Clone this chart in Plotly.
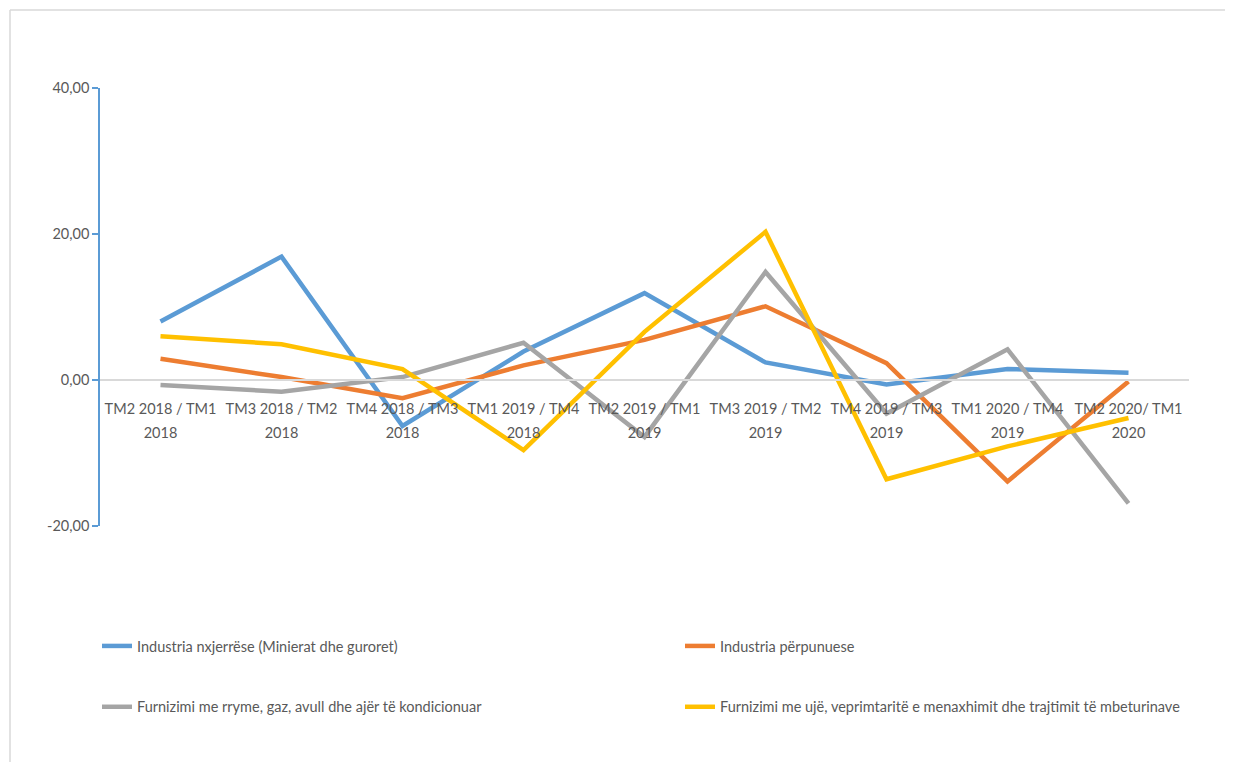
import plotly.graph_objects as go

categories = [
    "TM2 2018 / TM1 2018", "TM3 2018 / TM2 2018", "TM4 2018 / TM3 2018",
    "TM1 2019 / TM4 2018", "TM2 2019 / TM1 2019", "TM3 2019 / TM2 2019",
    "TM4 2019 / TM3 2019", "TM1 2020 / TM4 2019", "TM2 2020/ TM1 2020",
]
label_line1 = ["TM2 2018 / TM1", "TM3 2018 / TM2", "TM4 2018 / TM3", "TM1 2019 / TM4",
               "TM2 2019 / TM1", "TM3 2019 / TM2", "TM4 2019 / TM3", "TM1 2020 / TM4",
               "TM2 2020/ TM1"]
label_line2 = ["2018", "2018", "2018", "2018", "2019", "2019", "2019", "2019", "2020"]

nxjerrese = [8.0, 16.9, -6.3, 3.9, 11.9, 2.4, -0.6, 1.5, 1.0]
perpunuese = [2.9, 0.4, -2.5, 2.0, 5.5, 10.1, 2.3, -13.9, -0.2]
rryme = [-0.7, -1.6, 0.4, 5.1, -7.8, 14.8, -4.6, 4.2, -16.9]
uje = [6.0, 4.9, 1.5, -9.6, 6.6, 20.3, -13.6, -9.1, -5.2]

y_tickvals = [-20, 0, 20, 40]
y_ticktext = ["-20,00", "0,00", "20,00", "40,00"]

names = [
    "Industria nxjerrëse (Minierat dhe guroret)",
    "Industria përpunuese",
    "Furnizimi me rryme, gaz, avull dhe ajër të kondicionuar",
    "Furnizimi me ujë, veprimtaritë e menaxhimit dhe trajtimit të mbeturinave",
]
colors = ["#5B9BD5", "#ED7D31", "#A5A5A5", "#FFC000"]
series = [nxjerrese, perpunuese, rryme, uje]
legends = ["legend", "legend2", "legend", "legend2"]

FONT = "Lato, sans-serif"
FS = 14.5
TXT = "#595959"

fig = go.Figure()
for i, (name, col, vals, lg) in enumerate(zip(names, colors, series, legends)):
    fig.add_trace(go.Scatter(
        x=categories, y=vals, mode="lines", name=name,
        line=dict(color=col, width=4.5), legend=lg, legendgroup=f"g{i}",
    ))
# invisible trace carrying the second line of the category labels
fig.add_trace(go.Scatter(
    x=categories, y=[None] * len(categories), xaxis="x2", mode="lines",
    showlegend=False, hoverinfo="skip", line=dict(width=0),
))

W, H = 1233, 762
L, T = 92, 80
pw, ph = 1089, 438
R, B = W - L - pw, H - T - ph

def px_x(px):
    return (px - L) / pw

def px_y(py):
    return (H - B - py) / ph

axis_common = dict(
    type="category", range=[-0.5, 8.5], anchor="free", position=1/3,
    ticks="", showgrid=False, zeroline=False, tickangle=0,
    tickfont=dict(family=FONT, size=FS, color=TXT),
    tickmode="array", tickvals=categories,
)

border = dict(color="#D9D9D9", width=1.5)

fig.update_layout(
    width=W, height=H,
    margin=dict(l=L, r=R, t=T, b=B),
    paper_bgcolor="white", plot_bgcolor="white",
    font=dict(family=FONT, size=FS, color=TXT),
    showlegend=True,
    xaxis=dict(**axis_common, ticktext=label_line1, ticklabelstandoff=16,
               showline=True, linecolor="#D9D9D9", linewidth=1.5),
    xaxis2=dict(**axis_common, ticktext=label_line2, ticklabelstandoff=42,
                overlaying="x", showline=False),
    yaxis=dict(
        range=[-20, 40], tickmode="array", tickvals=y_tickvals, ticktext=y_ticktext,
        showline=True, linecolor="#5B9BD5", linewidth=1.5,
        ticks="outside", ticklen=6, tickcolor="#5B9BD5", tickwidth=1.5,
        showgrid=False, zeroline=False,
        tickfont=dict(family=FONT, size=FS, color=TXT),
    ),
    legend=dict(
        x=px_x(89), y=px_y(622), xanchor="left", yanchor="top",
        orientation="v", tracegroupgap=39, traceorder="grouped",
        font=dict(family=FONT, size=FS, color=TXT),
        bgcolor="rgba(0,0,0,0)",
    ),
    legend2=dict(
        x=px_x(672), y=px_y(622), xanchor="left", yanchor="top",
        orientation="v", tracegroupgap=39, traceorder="grouped",
        font=dict(family=FONT, size=FS, color=TXT),
        bgcolor="rgba(0,0,0,0)",
    ),
    shapes=[
        dict(type="line", xref="paper", yref="paper",
             x0=px_x(2), x1=px_x(1300), y0=px_y(2), y1=px_y(2), line=border, layer="below"),
        dict(type="line", xref="paper", yref="paper",
             x0=px_x(2), x1=px_x(2), y0=px_y(2), y1=px_y(800), line=border, layer="below"),
    ],
)

fig.write_html("out.html")
